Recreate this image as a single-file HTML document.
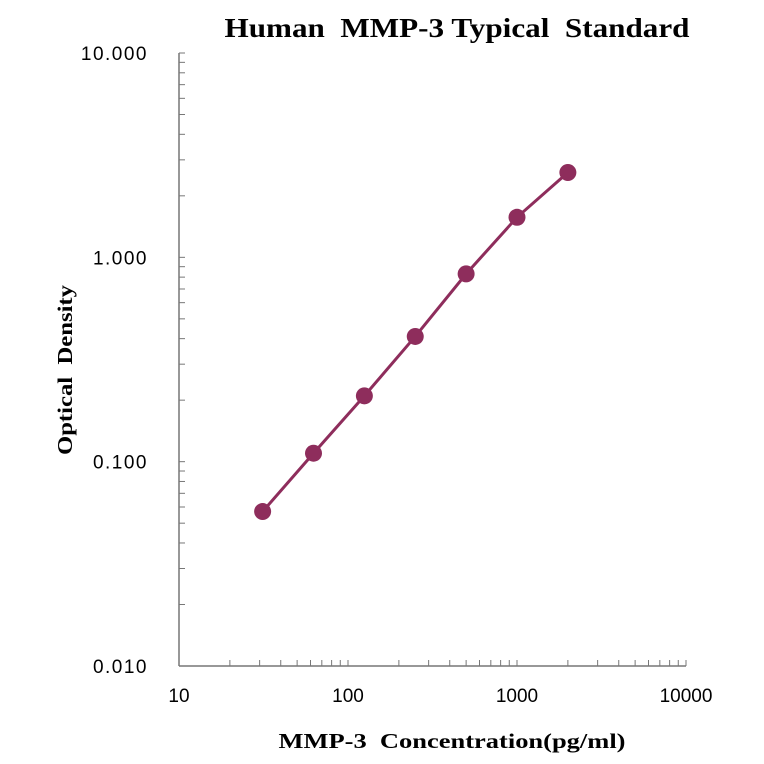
<!DOCTYPE html>
<html><head><meta charset="utf-8"><style>
body{margin:0;background:#fff;}
svg{display:block;}
text{white-space:pre;}
</style></head><body>
<svg width="764" height="764" xmlns="http://www.w3.org/2000/svg">
<text x="457" y="37" text-anchor="middle" font-family="Liberation Serif, serif" font-weight="bold" font-size="27" textLength="465" lengthAdjust="spacingAndGlyphs">Human  MMP-3 Typical  Standard</text>
<text transform="translate(72,370) rotate(-90)" text-anchor="middle" font-family="Liberation Serif, serif" font-weight="bold" font-size="21" textLength="170" lengthAdjust="spacingAndGlyphs">Optical  Density</text>
<text x="452" y="748" text-anchor="middle" font-family="Liberation Serif, serif" font-weight="bold" font-size="21" textLength="347" lengthAdjust="spacingAndGlyphs">MMP-3  Concentration(pg/ml)</text>
<g id="axes"></g>
<g id="marks"></g>
</svg>
<script>
const concentrations=[31.25,62.5,125,250,500,1000,2000];
const odValues=[0.057,0.11,0.21,0.41,0.83,1.57,2.6];
const xTicks=[10,100,1000,10000];
const xTickLabels=["10","100","1000","10000"];
const yTicks=[0.01,0.1,1,10];
const yTickLabels=["0.010","0.100","1.000","10.000"];
const NS="http://www.w3.org/2000/svg";
const X0=179,X1=686,Y0=666,Y1=53;
function xs(v){return X0+(Math.log10(v)-1)/3*(X1-X0);}
function ys(v){return Y0-(Math.log10(v)+2)/3*(Y0-Y1);}
function mk(t,a,p){const e=document.createElementNS(NS,t);for(const k in a)e.setAttribute(k,a[k]);p.appendChild(e);return e;}
const ax=document.getElementById('axes'),mg=document.getElementById('marks');
let l=mk('line',{x1:X0,y1:Y0,x2:X1,y2:Y0,stroke:'#777','stroke-width':1.5},ax);


l=mk('line',{x1:X0,y1:Y0,x2:X0,y2:Y1,stroke:'#777','stroke-width':1.5},ax);


for(let d=10;d<10000;d*=10){for(let m=2;m<=10;m++){const x=xs(d*m);const t=mk('line',{x1:x,y1:Y0,x2:x,y2:Y0-6,stroke:'#777','stroke-width':1},ax);

}}
for(let d=0.01;d<9;d*=10){for(let m=2;m<=10;m++){const y=ys(d*m);const t=mk('line',{x1:X0,y1:y,x2:X0+6,y2:y,stroke:'#777','stroke-width':1},ax);

}}
xTicks.forEach((v,i)=>{const t=mk('text',{x:xs(v),y:Y0+36,'text-anchor':'middle','font-family':'Liberation Sans, sans-serif','font-size':19},ax);t.textContent=xTickLabels[i];

});
yTicks.forEach((v,i)=>{const t=mk('text',{x:X0-31,y:ys(v)+7,'text-anchor':'end','font-family':'Liberation Sans, sans-serif','font-size':19,'letter-spacing':1.5},ax);t.textContent=yTickLabels[i];

});
const pts=concentrations.map((c,i)=>xs(c)+','+ys(odValues[i])).join(' ');
const pl=mk('polyline',{points:pts,fill:'none',stroke:'#8e2d5c','stroke-width':3},mg);


concentrations.forEach((c,i)=>{const p=mk('circle',{cx:xs(c),cy:ys(odValues[i]),r:8.5,fill:'#8e2d5c'},mg);

});
</script>
</body></html>
